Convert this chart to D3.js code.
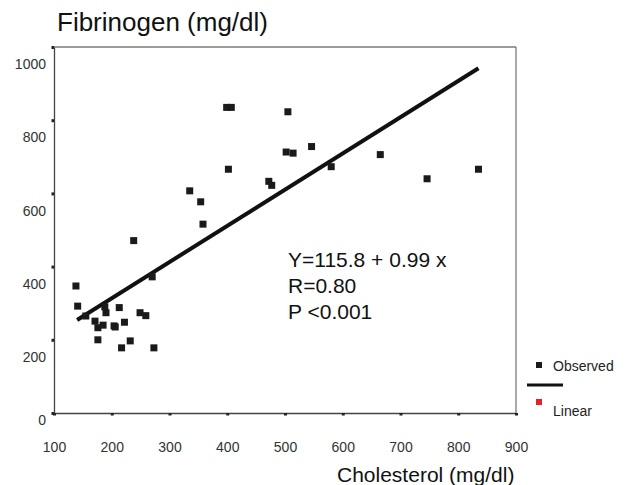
<!DOCTYPE html>
<html>
<head>
<meta charset="utf-8">
<script src="https://cdn.jsdelivr.net/npm/d3@7"></script>
<style>
  html, body { margin: 0; padding: 0; background: #fff; }
  svg { display: block; font-family: "Liberation Sans", Arial, Helvetica, sans-serif; }
</style>
</head>
<body>
<div id="chart"></div>
<script>
// Observed points (cholesterol mg/dl, fibrinogen mg/dl)
const cholesterol = [138, 141, 155, 171, 176, 176, 185, 188, 190, 204, 206, 213, 222, 217, 232,
    249, 259, 273, 270, 238, 335, 354, 358, 399, 407, 402, 505, 502, 514, 546, 472, 477, 580,
    665, 746, 835];
const fibrinogen = [347, 292, 265, 251, 233, 200, 240, 290, 274, 238, 235, 288, 248, 178, 197,
    274, 266, 178, 372, 471, 607, 577, 516, 835, 835, 666, 823, 713, 710, 728, 633, 622, 673,
    706, 640, 666];

// fitted line end points
const fitX = [140, 835];
const fitY = [254, 942];

const xTicks = [100, 200, 300, 400, 500, 600, 700, 800, 900];
const yTicks = [0, 200, 400, 600, 800, 1000];
const equationLines = ['Y=115.8 + 0.99 x', 'R=0.80', 'P <0.001'];
const legendItems = ['Observed', 'Linear'];

const width = 638, height = 485;
const plot = { left: 54, right: 516, top: 47, bottom: 413 };

const svg = d3.select('#chart').append('svg')
    .attr('width', width)
    .attr('height', height);

const x = d3.scaleLinear().domain([100, 900]).range([plot.left, plot.right]);
const y = d3.scaleLinear().domain([0, 1000]).range([plot.bottom, plot.top]);

// frame: top and right lighter
svg.append('line')
    .attr('x1', plot.left).attr('x2', plot.right)
    .attr('y1', plot.top).attr('y2', plot.top)
    .attr('stroke', '#7a7a7a').attr('stroke-width', 1.3);
svg.append('line')
    .attr('x1', plot.right).attr('x2', plot.right)
    .attr('y1', plot.top).attr('y2', plot.bottom)
    .attr('stroke', '#7a7a7a').attr('stroke-width', 1.3);

// axes drawn by d3, then restyled
const xAxis = svg.append('g')
    .attr('transform', `translate(0,${plot.bottom})`)
    .call(d3.axisBottom(x).tickValues(xTicks).tickFormat(d3.format('d')).tickSize(0).tickPadding(29));
const yAxis = svg.append('g')
    .attr('transform', `translate(${plot.left},0)`)
    .call(d3.axisLeft(y).tickValues(yTicks).tickFormat(d3.format('d')).tickSize(0).tickPadding(8));

[xAxis, yAxis].forEach(g => {
    g.select('.domain').attr('stroke', '#444').attr('stroke-width', 1.3);
    g.selectAll('.tick text')
        .attr('font-size', 14)
        .attr('fill', '#333')
        .attr('font-family', '"Liberation Sans", Arial, sans-serif');
});

// the y labels sit below their tick marks in the original
yAxis.selectAll('.tick text')
    .attr('dy', d => d === 0 ? '0.85em' : '1.55em');

// small square tick marks
xAxis.selectAll('.tick').append('rect')
    .attr('x', -1.5).attr('y', 0).attr('width', 3).attr('height', 2.5)
    .attr('fill', '#222');
yAxis.selectAll('.tick').append('rect')
    .attr('x', -2.5).attr('y', -1.5).attr('width', 2.5).attr('height', 3)
    .attr('fill', '#222');

// regression line
svg.append('line')
    .attr('x1', x(fitX[0])).attr('y1', y(fitY[0]))
    .attr('x2', x(fitX[1])).attr('y2', y(fitY[1]))
    .attr('stroke', '#111')
    .attr('stroke-width', 4)
    .attr('stroke-linecap', 'butt');

// observed points
const pts = cholesterol.map((c, i) => ({ c: c, f: fibrinogen[i] }));
const size = 7;
svg.append('g').selectAll('rect')
    .data(pts)
    .enter()
    .append('rect')
    .attr('x', d => x(d.c) - size / 2)
    .attr('y', d => y(d.f) - size / 2)
    .attr('width', size)
    .attr('height', size)
    .attr('fill', '#1a1a1a');

// titles
svg.append('text')
    .attr('x', 57).attr('y', 31)
    .attr('font-size', 26)
    .attr('fill', '#111')
    .text('Fibrinogen (mg/dl)');

svg.append('text')
    .attr('x', 337).attr('y', 482)
    .attr('font-size', 21)
    .attr('fill', '#111')
    .text('Cholesterol (mg/dl)');

// equation block
svg.append('g').selectAll('text')
    .data(equationLines)
    .enter()
    .append('text')
    .attr('x', 288)
    .attr('y', (d, i) => 267 + i * 26)
    .attr('font-size', 21)
    .attr('fill', '#111')
    .text(d => d);

// legend
const legend = svg.append('g');
legend.append('rect')
    .attr('x', 536).attr('y', 362).attr('width', 6).attr('height', 6)
    .attr('fill', '#1a1a1a');
legend.append('line')
    .attr('x1', 527).attr('x2', 563).attr('y1', 385).attr('y2', 385)
    .attr('stroke', '#111').attr('stroke-width', 3);
legend.append('rect')
    .attr('x', 536).attr('y', 399).attr('width', 6).attr('height', 6)
    .attr('fill', '#e8202a');
legend.selectAll('text.lg')
    .data(legendItems)
    .enter()
    .append('text')
    .attr('class', 'lg')
    .attr('x', 553)
    .attr('y', (d, i) => i === 0 ? 371 : 416)
    .attr('font-size', 14)
    .attr('fill', '#222')
    .text(d => d);
</script>
</body>
</html>
